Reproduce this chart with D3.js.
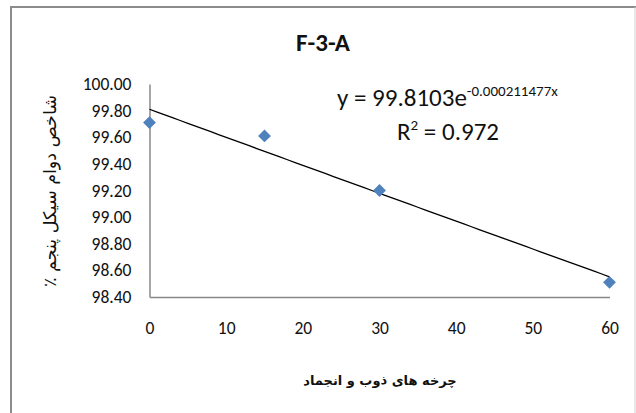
<!DOCTYPE html>
<html><head><meta charset="utf-8">
<script src="https://cdn.jsdelivr.net/npm/d3@7"></script>
<style>
body{margin:0;background:#fff;}
svg{display:block;}
text{font-family:Carlito, Calibri, "Open Sans", "Liberation Sans", sans-serif;}
</style></head>
<body>
<svg id="c" width="636" height="413"></svg>
<script>
const title = "F-3-A";
const cycles = [0, 15, 30, 60];
const durability = [99.71, 99.61, 99.20, 98.51];
const xTicks = [0, 10, 20, 30, 40, 50, 60];
const yTicks = [98.40, 98.60, 98.80, 99.00, 99.20, 99.40, 99.60, 99.80, 100.00];
const trendA = 99.8103, trendB = -0.000211477;
const trendX = [0, 60];
const xLabel = "چرخه های ذوب و انجماد";
const yLabel = "شاخص دوام  سیکل پنجم ٪";

const svg = d3.select("#c");
// frame
svg.append("line").attr("x1",11).attr("x2",11).attr("y1",7).attr("y2",413).attr("stroke","#8c8c8c").attr("stroke-width",2);
svg.append("line").attr("x1",10).attr("x2",636).attr("y1",7).attr("y2",7).attr("stroke","#8c8c8c").attr("stroke-width",2);
svg.append("line").attr("x1",635).attr("x2",635).attr("y1",7).attr("y2",413).attr("stroke","#d0d0d0").attr("stroke-width",1);

const x = d3.scaleLinear().domain([0,60]).range([149.5,609.5]);
const y = d3.scaleLinear().domain([98.4,100]).range([297,84]);

const g = svg.append("g");
// y axis
const ya = g.append("g").attr("transform","translate(149.5,0)")
  .call(d3.axisLeft(y).tickValues(yTicks).tickSize(0).tickPadding(18).tickFormat(d3.format(".2f")));
ya.select(".domain").attr("stroke","#888").attr("stroke-width",1.5);
ya.selectAll("text").attr("font-size",17.5).attr("fill","#111");
// x axis
const xa = g.append("g").attr("transform","translate(0,297)")
  .call(d3.axisBottom(x).tickValues(xTicks).tickSize(0).tickPadding(25).tickFormat(d3.format("d")));
xa.select(".domain").attr("stroke","#888").attr("stroke-width",1.5);
xa.selectAll("text").attr("font-size",17.5).attr("fill","#111");

// trendline
const line = d3.line().x(d=>x(d)).y(d=>y(trendA*Math.exp(trendB*d)));
g.append("path").datum(d3.range(trendX[0], trendX[1]+0.5, 1)).attr("d",line)
  .attr("fill","none").attr("stroke","#000").attr("stroke-width",1.3);

// markers
g.selectAll("path.pt").data(cycles).enter().append("path").attr("class","pt")
  .attr("d", d3.symbol().type(d3.symbolDiamond2).size(105))
  .attr("transform",(d,i)=>`translate(${x(d)},${y(durability[i])})`)
  .attr("fill","#4f81bd");

// title
svg.append("text").attr("x",323).attr("y",51).attr("text-anchor","middle")
  .attr("font-size",25).attr("font-weight","bold").attr("fill","#111").text(title);

// equation
const eq = svg.append("text").attr("x",337).attr("y",106).attr("font-size",25).attr("fill","#111");
eq.append("tspan").text("y = " + trendA + "e");
eq.append("tspan").attr("dy",-10).attr("font-size",15).text(trendB + "x");
const r2 = svg.append("text").attr("x",448).attr("y",140).attr("text-anchor","middle").attr("font-size",25).attr("fill","#111");
r2.append("tspan").text("R");
r2.append("tspan").attr("dy",-10).attr("font-size",15).text("2");
r2.append("tspan").attr("dy",10).text(" = 0.972");

// axis titles
svg.append("text").attr("x",380).attr("y",385).attr("text-anchor","middle").attr("direction","rtl")
  .attr("font-size",13).attr("font-weight","bold").attr("fill","#111")
  .style("font-family","'DejaVu Sans', 'Noto Sans', sans-serif").text(xLabel);
svg.append("text").attr("transform","translate(56,191) rotate(-90)").attr("text-anchor","middle").attr("direction","rtl")
  .attr("font-size",17.5).attr("fill","#111")
  .style("font-family","'DejaVu Sans', 'Noto Sans', sans-serif").text(yLabel);
</script>
</body></html>
